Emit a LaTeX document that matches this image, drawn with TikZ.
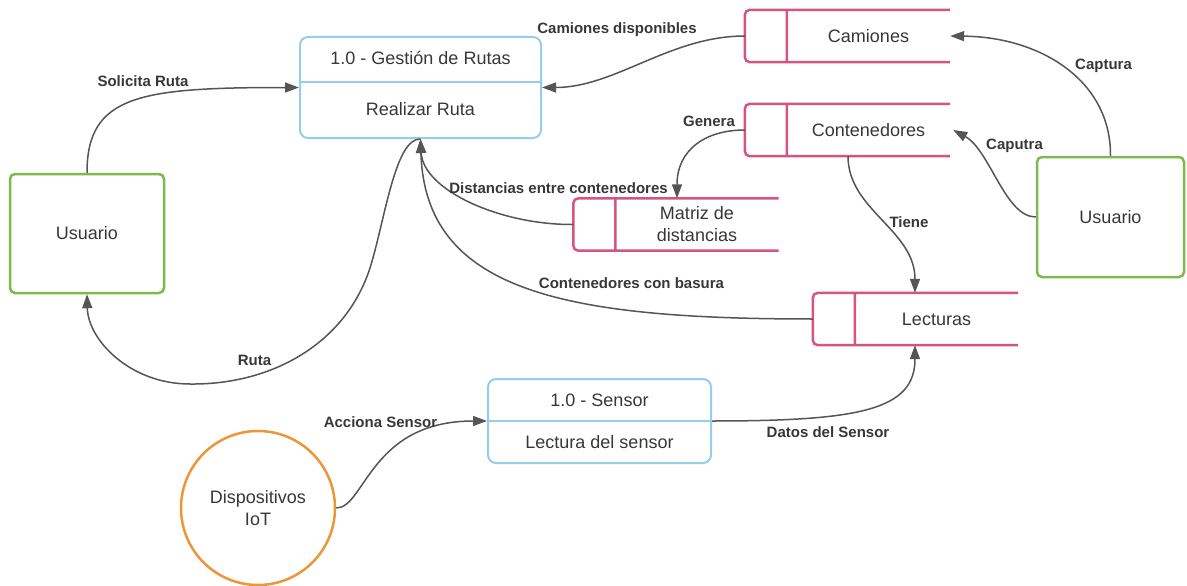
\documentclass[tikz,border=0pt]{standalone}
\usepackage{fontspec}
\setmainfont{Liberation Sans}
\usetikzlibrary{arrows.meta}
\definecolor{procblue}{RGB}{150,205,235}
\definecolor{storepink}{RGB}{212,85,125}
\definecolor{entgreen}{RGB}{125,185,75}
\definecolor{iotorange}{RGB}{235,150,55}
\definecolor{linegray}{RGB}{85,85,85}
\definecolor{txt}{RGB}{55,55,55}
\newcommand\storeshape[1]{\draw[storeline] (#1.north east) -- (#1.north west) -- ([xshift=-42pt]#1.north west) -- ([xshift=-42pt]#1.south west) -- (#1.south east) (#1.north west) -- (#1.south west);}
\begin{document}
\begin{tikzpicture}[x=1pt,y=-1pt,
  proc/.style={draw=procblue, line width=2pt, rounded corners=8pt, inner sep=0pt},
  ptext/.style={font=\fontsize{18}{21}\selectfont, text=txt, inner sep=0pt},
  ent/.style={draw=entgreen, line width=2.5pt, rounded corners=5pt, inner sep=0pt, font=\fontsize{18}{21}\selectfont, text=txt},
  iot/.style={draw=iotorange, line width=2.5pt, circle, inner sep=0pt, minimum size=154pt, align=center, font=\fontsize{18}{22}\selectfont, text=txt},
  store/.style={minimum width=163pt, minimum height=52pt, inner sep=0pt, align=center, font=\fontsize{18}{22}\selectfont, text=txt},
  storeline/.style={draw=storepink, line width=2.5pt, rounded corners=5pt},
  flow/.style={draw=linegray, line width=1.5pt, -{Triangle[length=14pt,width=10pt]}},
  lbl/.style={font=\fontsize{15}{17}\selectfont\bfseries, text=txt, inner sep=1pt}]
\useasboundingbox (0,0) rectangle (1187,586);

% processes
\node[proc, minimum width=241pt, minimum height=101pt] (p1) at (420.5,87.5) {};
\draw[procblue, line width=2pt] (300,82) -- (541,82);
\node[ptext] (p1t) at (420.5,58) {1.0 - Gestión de Rutas};
\node[ptext] (p1b) at (420.5,109) {Realizar Ruta};

\node[proc, minimum width=223pt, minimum height=84pt] (s) at (599.5,421) {};
\draw[procblue, line width=2pt] (488,421) -- (711,421);
\node[ptext] (st) at (599.5,400) {1.0 - Sensor};
\node[ptext] (sb) at (599.5,442) {Lectura del sensor};

% entities
\node[ent, minimum width=154pt, minimum height=119pt] (uL) at (87,233.5) {Usuario};
\node[ent, minimum width=147pt, minimum height=120pt] (uR) at (1110.5,217) {Usuario};
\node[iot] (iot) at (258,508) {Dispositivos\\IoT};

% stores
\node[store] (cam) at (868.5,36) {Camiones};
\storeshape{cam}
\node[store] (con) at (868.5,130) {Contenedores};
\storeshape{con}
\node[store] (mat) at (697,224.5) {Matriz de\\distancias};
\storeshape{mat}
\node[store] (lec) at (936.5,319) {Lecturas};
\storeshape{lec}

% flows
\draw[flow] (uL.north) .. controls (87,95) and (140,87.5) .. (p1.west);
\draw[flow] ([xshift=-42pt]cam.west) .. controls (670,36) and (615,87.5) .. (p1.east);
\draw[flow] (uR.north) .. controls (1111,80) and (1040,37) .. (cam.east);
\draw[flow] (uR.west) .. controls (1005,217) and (990,150) .. ([xshift=3pt]con.east);
\draw[flow] ([xshift=-42pt]con.west) .. controls (705,130) and (677,150) .. ([xshift=-20pt]mat.north);
\draw[flow] ([xshift=-42pt]mat.west) .. controls (500,225) and (423,190) .. (p1.south);
\draw[flow] ([xshift=-42pt]lec.west) .. controls (560,319) and (425,290) .. (p1.south);
\draw[flow] (p1.south) .. controls (395,138) and (385,220) .. (370,268)
  .. controls (345,345) and (270,385) .. (190,384)
  .. controls (130,384) and (88,340) .. (uL.south);
\draw[flow] ([xshift=-20.5pt]con.south) .. controls (848,210) and (915,230) .. ([xshift=-21.5pt]lec.north);
\draw[flow] (iot.east) .. controls (365,508) and (370,421) .. (s.west);
\draw[flow] (s.east) .. controls (860,421) and (915,410) .. ([xshift=-21.5pt]lec.south);

% labels
\node[lbl] (l1) at (143,81) {Solicita Ruta};
\node[lbl] (l2) at (617,30) {Camiones disponibles};
\node[lbl] (l3) at (1103.5,66) {Captura};
\node[lbl] (l4) at (1014.5,146) {Caputra};
\node[lbl] (l5) at (709,121) {Genera};
\node[lbl] (l6) at (558.5,188) {Distancias entre contenedores};
\node[lbl] (l7) at (631.5,283) {Contenedores con basura};
\node[lbl] (l8) at (909,222) {Tiene};
\node[lbl] (l9) at (254.5,360) {Ruta};
\node[lbl] (l10) at (380.5,422) {Acciona Sensor};
\node[lbl] (l11) at (828,432) {Datos del Sensor};
\end{tikzpicture}
\end{document}
